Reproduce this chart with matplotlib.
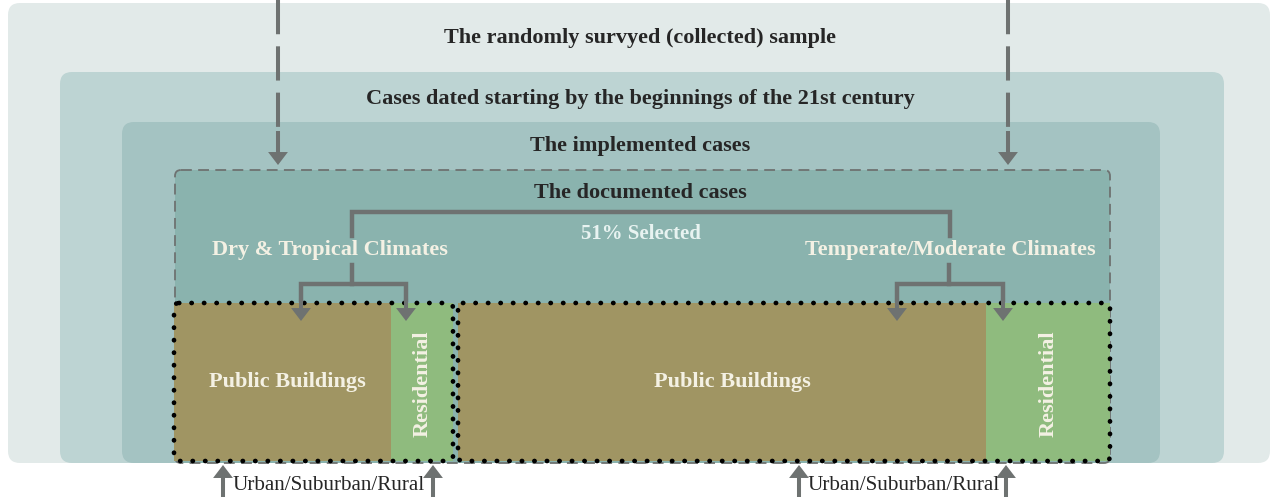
import matplotlib
matplotlib.use("Agg")
import matplotlib.pyplot as plt
from matplotlib.patches import FancyBboxPatch, Rectangle

# ---- content ----
level_labels = [
    "The randomly survyed (collected) sample",
    "Cases dated starting by the beginnings of the 21st century",
    "The implemented cases",
    "The documented cases",
]
selected_label = "51% Selected"
climate_labels = ["Dry & Tropical Climates", "Temperate/Moderate Climates"]
building_labels = ["Public Buildings", "Residential"]
context_label = "Urban/Suburban/Rural"

# ---- layout / style ----
W, H = 1276, 497
level_boxes = [(8, 3, 1270, 463), (60, 72, 1224, 463), (122, 122, 1160, 463), (175, 170, 1110, 463)]
level_colors = ["#e2eae9", "#bdd4d3", "#a4c3c2", "#8ab3ae"]
level_text_y = [38, 99, 146, 193]
groups = [  # x0, split, x1
    (174, 391, 453),
    (458, 986, 1110),
]
public_text_x = [287, 732]
climate_text_x = [330, 950]
blk_top, blk_bot = 303, 461
public_color = "#a09563"
resid_color = "#8fbb7e"
gray = "#6e7271"
dark = "#262626"
light = "#f4f1e4"
serif = ["Liberation Serif", "DejaVu Serif"]
FS = 16

fig = plt.figure(figsize=(W / 100, H / 100), dpi=100)
ax = fig.add_axes([0, 0, 1, 1])
ax.set_xlim(0, W)
ax.set_ylim(H, 0)
ax.axis("off")
fig.patch.set_facecolor("white")

# nested level boxes
for i, ((x0, y0, x1, y1), c) in enumerate(zip(level_boxes, level_colors)):
    if i < 3:
        pad = 12
        p = FancyBboxPatch((x0 + pad, y0 + pad), x1 - x0 - 2 * pad, y1 - y0 - 2 * pad,
                           boxstyle=f"round,pad={pad}", fc=c, ec="none", zorder=1 + i)
    else:
        p = FancyBboxPatch((x0 + 6, y0 + 6), x1 - x0 - 12, y1 - y0 - 12,
                           boxstyle="round,pad=6", fc=c, ec=gray, lw=1.3,
                           ls=(0, (6, 3.5)), zorder=1 + i)
    ax.add_patch(p)

for txt, y in zip(level_labels, level_text_y):
    ax.text(640, y, txt, ha="center", va="center", fontsize=FS, fontweight="bold",
            family=serif, color=dark, zorder=10)

head = "-|>,head_length=0.55,head_width=0.42"
LW = 2.9


def arrow(x, y_from, y_to):
    ax.annotate("", xy=(x, y_to), xytext=(x, y_from),
                arrowprops=dict(arrowstyle=head, color=gray, lw=LW,
                                joinstyle="miter", capstyle="butt",
                                shrinkA=0, shrinkB=0), zorder=9)


# dashed arrows from the top
for x in (278, 1008):
    ax.plot([x, x], [0, 131], color=gray, lw=LW, ls=(0, (8.5, 3.0)),
            solid_capstyle="butt", dash_capstyle="butt", zorder=9)
    arrow(x, 131, 165)

# main bracket
ax.plot([352, 352, 950, 950], [236, 212, 212, 236], color=gray, lw=LW + 0.3,
        solid_joinstyle="miter", zorder=9)
ax.text(641, 234, selected_label, ha="center", va="center", fontsize=15,
        fontweight="bold", family=serif, color="#e8f3f1", zorder=10)
for txt, x in zip(climate_labels, climate_text_x):
    ax.text(x, 250, txt, ha="center", va="center", fontsize=FS,
            fontweight="bold", family=serif, color=light, zorder=10)

# building blocks
for (x0, xs, x1), px in zip(groups, public_text_x):
    ax.add_patch(Rectangle((x0, blk_top), xs - x0, blk_bot - blk_top, fc=public_color,
                           ec="none", zorder=6))
    ax.add_patch(Rectangle((xs, blk_top), x1 - xs, blk_bot - blk_top, fc=resid_color,
                           ec="none", zorder=6))
    ax.add_patch(FancyBboxPatch((x0, blk_top), x1 - x0, blk_bot - blk_top,
                                boxstyle="round,pad=0,rounding_size=5", fc="none",
                                ec="black", lw=3.4, ls=(0, (0.05, 2.6)),
                                capstyle="round", zorder=8))
    ax.text(px, 382, building_labels[0], ha="center", va="center",
            fontsize=FS, fontweight="bold", family=serif, color=light, zorder=10)
    ax.text((xs + x1) / 2 + 1, 384, building_labels[1], ha="center", va="center",
            fontsize=FS, fontweight="bold", family=serif, color=light,
            rotation=90, zorder=10)

# sub-brackets with arrows
for stem, lx, rx in ((352, 301, 406), (949, 897, 1003)):
    ax.plot([stem, stem], [265, 284], color=gray, lw=LW + 0.3, zorder=9)
    ax.plot([lx, lx, rx, rx], [300, 284, 284, 300], color=gray, lw=LW + 0.3,
            solid_joinstyle="miter", zorder=9)
    for x in (lx, rx):
        arrow(x, 298, 321)

# bottom arrows with labels
for lx, rx in ((223, 433), (799, 1006)):
    for x in (lx, rx):
        arrow(x, 497, 465)
    ax.text((lx + rx) / 2 + 1, 486, context_label, ha="center", va="center",
            fontsize=15.2, family=serif, color=dark, zorder=10)

fig.savefig("out.png", dpi=100)
